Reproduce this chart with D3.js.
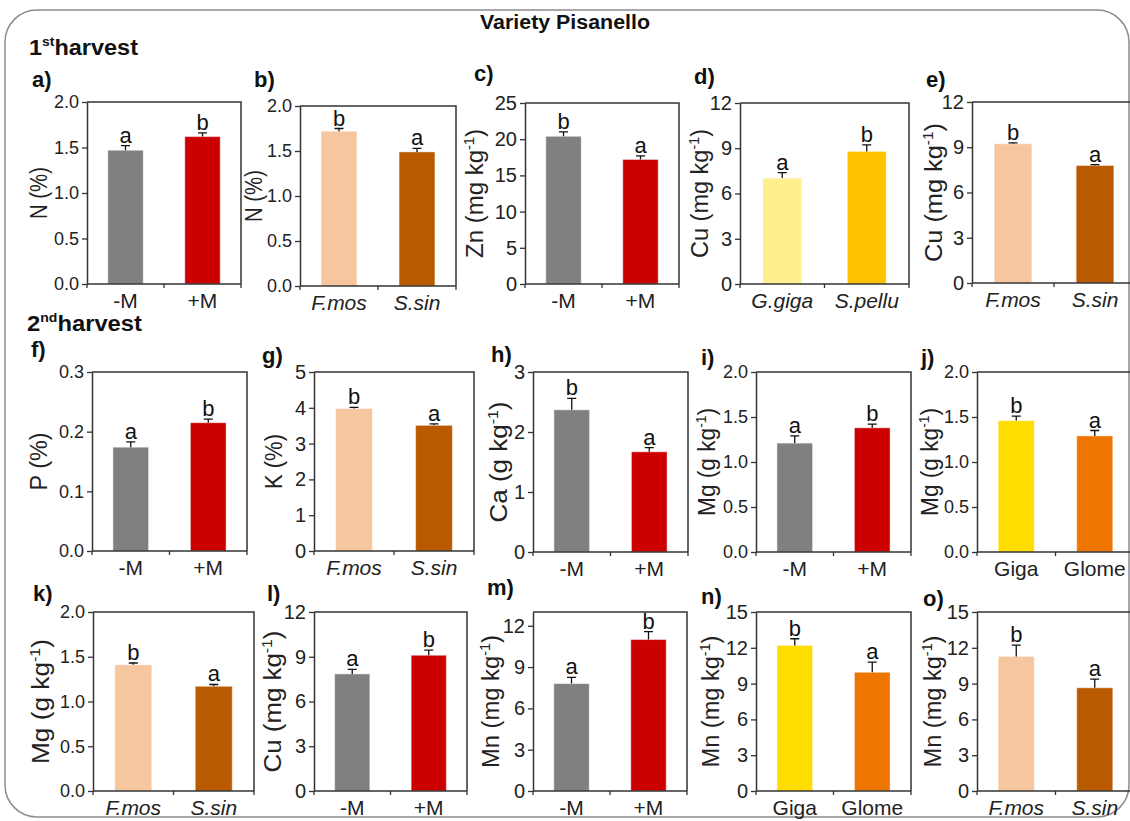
<!DOCTYPE html>
<html><head><meta charset="utf-8">
<script src="https://cdn.jsdelivr.net/npm/d3@7"></script>
<style>
body{margin:0;background:#fff}
svg{display:block}
text{font-family:"Liberation Sans", Arial, Helvetica, sans-serif}
</style>
</head><body>
<svg id="chart" width="1130" height="821"></svg>
<script>
// ---------------- DATA ----------------
const catM  = ["-M", "+M"];
const catFS = ["F.mos", "S.sin"];
const catGS = ["G.giga", "S.pellu"];
const catGG = ["Giga", "Glome"];
const italicCats = ["F.mos", "S.sin", "G.giga", "S.pellu"];
const catColor = {"-M":"#808080","+M":"#CC0000","F.mos":"#F6C69E","S.sin":"#BA5A00",
                  "G.giga":"#FFF08E","S.pellu":"#FFC000","Giga":"#FFDD00","Glome":"#EE7600"};

// 1st harvest
const meanA = [1.47, 1.62],  errA = [0.05, 0.04],  sigA = ["a", "b"];
const meanB = [1.72, 1.49],  errB = [0.03, 0.04],  sigB = ["b", "a"];
const meanC = [20.4, 17.2],  errC = [0.6, 0.5],    sigC = ["b", "a"];
const meanD = [7.02, 8.79],  errD = [0.36, 0.44],  sigD = ["a", "b"];
const meanE = [9.23, 7.79],  errE = [0.06, 0.06],  sigE = ["b", "a"];
// 2nd harvest
const meanF = [0.174, 0.215], errF = [0.009, 0.006], sigF = ["a", "b"];
const meanG = [3.98, 3.51],  errG = [0.03, 0.04],  sigG = ["b", "a"];
const meanH = [2.37, 1.67],  errH = [0.19, 0.07],  sigH = ["b", "a"];
const meanI = [1.21, 1.38],  errI = [0.08, 0.04],  sigI = ["a", "b"];
const meanJ = [1.46, 1.29],  errJ = [0.05, 0.06],  sigJ = ["b", "a"];
const meanK = [1.41, 1.17],  errK = [0.02, 0.02],  sigK = ["b", "a"];
const meanL = [7.85, 9.1],   errL = [0.3, 0.35],   sigL = ["a", "b"];
const meanM = [7.8, 11.0],   errM = [0.45, 0.57],  sigM = ["a", "b"];
const meanN = [12.2, 9.95],  errN = [0.56, 0.85],  sigN = ["b", "a"];
const meanO = [11.28, 8.65], errO = [0.95, 0.73],  sigO = ["b", "a"];

// tick labels
const ticksN2  = [0, 0.5, 1.0, 1.5, 2.0];
const ticks25  = [0, 5, 10, 15, 20, 25];
const ticks12  = [0, 3, 6, 9, 12];
const ticks15  = [0, 3, 6, 9, 12, 15];
const ticksP   = [0, 0.1, 0.2, 0.3];
const ticks5   = [0, 1, 2, 3, 4, 5];
const ticks3   = [0, 1, 2, 3];

const panels = [
  {id:"a", cats:catM,  mean:meanA, err:errA, sig:sigA, yMax:2,   ticks:ticksN2, fmt:".1f", el:"N",  unit:"%"},
  {id:"b", cats:catFS, mean:meanB, err:errB, sig:sigB, yMax:2,   ticks:ticksN2, fmt:".1f", el:"N",  unit:"%"},
  {id:"c", cats:catM,  mean:meanC, err:errC, sig:sigC, yMax:25,  ticks:ticks25, fmt:"d",   el:"Zn", unit:"mg kg"},
  {id:"d", cats:catGS, mean:meanD, err:errD, sig:sigD, yMax:12,  ticks:ticks12, fmt:"d",   el:"Cu", unit:"mg kg"},
  {id:"e", cats:catFS, mean:meanE, err:errE, sig:sigE, yMax:12,  ticks:ticks12, fmt:"d",   el:"Cu", unit:"mg kg"},
  {id:"f", cats:catM,  mean:meanF, err:errF, sig:sigF, yMax:0.3, ticks:ticksP,  fmt:".1f", el:"P",  unit:"%"},
  {id:"g", cats:catFS, mean:meanG, err:errG, sig:sigG, yMax:5,   ticks:ticks5,  fmt:"d",   el:"K",  unit:"%"},
  {id:"h", cats:catM,  mean:meanH, err:errH, sig:sigH, yMax:3,   ticks:ticks3,  fmt:"d",   el:"Ca", unit:"g kg"},
  {id:"i", cats:catM,  mean:meanI, err:errI, sig:sigI, yMax:2,   ticks:ticksN2, fmt:".1f", el:"Mg", unit:"g kg"},
  {id:"j", cats:catGG, mean:meanJ, err:errJ, sig:sigJ, yMax:2,   ticks:ticksN2, fmt:".1f", el:"Mg", unit:"g kg"},
  {id:"k", cats:catFS, mean:meanK, err:errK, sig:sigK, yMax:2,   ticks:ticksN2, fmt:".1f", el:"Mg", unit:"g kg"},
  {id:"l", cats:catM,  mean:meanL, err:errL, sig:sigL, yMax:12,  ticks:ticks12, fmt:"d",   el:"Cu", unit:"mg kg"},
  {id:"m", cats:catM,  mean:meanM, err:errM, sig:sigM, yMax:13,  ticks:ticks12, fmt:"d",   el:"Mn", unit:"mg kg"},
  {id:"n", cats:catGG, mean:meanN, err:errN, sig:sigN, yMax:15,  ticks:ticks15, fmt:"d",   el:"Mn", unit:"mg kg"},
  {id:"o", cats:catFS, mean:meanO, err:errO, sig:sigO, yMax:15,  ticks:ticks15, fmt:"d",   el:"Mn", unit:"mg kg"}
];

// ---------------- LAYOUT ----------------
const layout = {
  a:{box:[87,241,102,284],  lab:[32,87],   tOff:40, tLen:52},
  b:{box:[300,456,106,286], lab:[254,87],  tOff:38, tLen:52},
  c:{box:[525,679,103,284], lab:[474,81],  tOff:42, tLen:129},
  d:{box:[740,909,103,284], lab:[694,84],  tOff:32, tLen:129},
  e:{box:[972,1136,102,283],lab:[926,87],  tOff:30, tLen:139},
  f:{box:[92,247,372,551],  lab:[31,357],  tOff:45, tLen:58},
  g:{box:[314,474,372,551], lab:[262,363], tOff:32, tLen:55},
  h:{box:[533,688,372,552], lab:[491,362], tOff:26, tLen:121},
  i:{box:[756,911,372,552], lab:[701,365], tOff:41, tLen:108},
  j:{box:[977,1134,372,552],lab:[921,365], tOff:39, tLen:108},
  k:{box:[93,254,612,791],  lab:[33,601],  tOff:44, tLen:125},
  l:{box:[314,467,612,791], lab:[267,601], tOff:33, tLen:142},
  m:{box:[533,687,612,791], lab:[487,595], tOff:34, tLen:133},
  n:{box:[756,911,612,791], lab:[701,604], tOff:37, tLen:132},
  o:{box:[977,1134,612,791],lab:[923,606], tOff:36, tLen:132}
};

const svg = d3.select("#chart");
const AX = "#333333";

// outer rounded frame
svg.append("rect").attr("x",5).attr("y",10).attr("width",1124).attr("height",807)
  .attr("rx",32).attr("ry",32).attr("fill","none").attr("stroke","#8c8c8c").attr("stroke-width",1.5);

// global titles
svg.append("text").attr("x",565).attr("y",29).attr("text-anchor","middle")
  .attr("font-size",20).attr("font-weight","bold").attr("fill","#111")
  .attr("textLength",170).attr("lengthAdjust","spacingAndGlyphs").text("Variety Pisanello");

function harvestLabel(x, y, num, sup, len){
  const t = svg.append("text").attr("x",x).attr("y",y).attr("font-size",22)
    .attr("font-weight","bold").attr("fill","#111")
    .attr("textLength",len).attr("lengthAdjust","spacingAndGlyphs");
  t.append("tspan").text(num);
  t.append("tspan").attr("font-size",13).attr("dy",-9).text(sup);
  t.append("tspan").attr("dy",9).text("harvest");
}
harvestLabel(29, 55, "1", "st", 109);
harvestLabel(27, 331, "2", "nd", 115);

function drawPanel(p){
  const L = layout[p.id];
  const [x0,x1,y0,y1] = L.box;
  const x = d3.scaleBand().domain(p.cats).range([x0,x1]);
  const y = d3.scaleLinear().domain([0,p.yMax]).range([y1,y0]);
  const g = svg.append("g").attr("class","panel-"+p.id);
  const bw = x.bandwidth()*0.46;
  const cx = c => x(c) + x.bandwidth()/2;

  // bars
  g.selectAll("rect.bar").data(p.cats).join("rect").attr("class","bar")
    .attr("x", c => cx(c) - bw/2).attr("width", bw)
    .attr("y", (c,i) => y(p.mean[i])).attr("height", (c,i) => y(0) - y(p.mean[i]))
    .attr("fill", c => catColor[c])
    .attr("stroke", "#ffffff").attr("stroke-opacity",0.45).attr("stroke-width",1);

  // error bars (upper only)
  g.selectAll("path.err").data(p.cats).join("path").attr("class","err")
    .attr("d", (c,i) => {
      const xc = cx(c), yt = y(p.mean[i] + p.err[i]), yb = y(p.mean[i]);
      return `M${xc},${yb}V${yt}M${xc-4.5},${yt}H${xc+4.5}`;
    })
    .attr("fill","none").attr("stroke","#111").attr("stroke-width",1.3);

  // significance letters
  g.selectAll("text.sig").data(p.cats).join("text").attr("class","sig")
    .attr("x", c => cx(c)).attr("y", (c,i) => y(p.mean[i] + p.err[i]) - 3)
    .attr("text-anchor","middle").attr("font-size",22).attr("fill","#111")
    .text((c,i) => p.sig[i]);

  // box top/right
  g.append("path").attr("d",`M${x0},${y0}H${x1}V${y1}`)
    .attr("fill","none").attr("stroke",AX).attr("stroke-width",1.5);

  // left axis
  const ax = d3.axisLeft(y).tickValues(p.ticks).tickFormat(d3.format(p.fmt))
    .tickSize(5).tickPadding(3).tickSizeOuter(0);
  const ga = g.append("g").attr("transform",`translate(${x0},0)`).call(ax);
  ga.select(".domain").attr("stroke",AX).attr("stroke-width",1.5);
  ga.selectAll(".tick line").attr("stroke",AX).attr("stroke-width",1.3);
  ga.selectAll(".tick text").attr("font-size", p.fmt === "d" ? 20 : 18).attr("fill","#222")
    .attr("font-family",'"Liberation Sans", Arial, sans-serif');

  // bottom axis
  g.append("path").attr("d",`M${x0},${y1}H${x1}`).attr("stroke",AX).attr("stroke-width",1.5);
  const bounds = [x0].concat(p.cats.slice(1).map(c => x(c)), [x1]);
  g.selectAll("line.bt").data(bounds).join("line").attr("class","bt")
    .attr("x1",d=>d).attr("x2",d=>d).attr("y1",y1).attr("y2",y1+4)
    .attr("stroke",AX).attr("stroke-width",1.3);
  g.selectAll("text.cat").data(p.cats).join("text").attr("class","cat")
    .attr("x", c => cx(c)).attr("y", y1 + 24).attr("text-anchor","middle")
    .attr("font-size",21).attr("fill","#222")
    .attr("font-style", c => italicCats.includes(c) ? "italic" : "normal")
    .text(c => c);

  // y title
  const tx = x0 - L.tOff, ty = (y0 + y1)/2;
  const t = g.append("text").attr("x",tx).attr("y",ty)
    .attr("transform",`rotate(-90,${tx},${ty})`).attr("text-anchor","middle")
    .attr("font-size",23).attr("fill","#222")
    .attr("textLength",L.tLen).attr("lengthAdjust","spacingAndGlyphs");
  if (p.unit === "%") {
    t.text(p.el + " (%)");
  } else {
    t.append("tspan").text(p.el + " (" + p.unit);
    t.append("tspan").attr("font-size",14).attr("dy",-9).text("-1");
    t.append("tspan").attr("dy",9).text(")");
  }

  // panel label
  g.append("text").attr("x",L.lab[0]).attr("y",L.lab[1]).attr("font-size",22)
    .attr("font-weight","bold").attr("fill","#111").text(p.id + ")");
}

panels.forEach(drawPanel);
</script>
</body></html>
